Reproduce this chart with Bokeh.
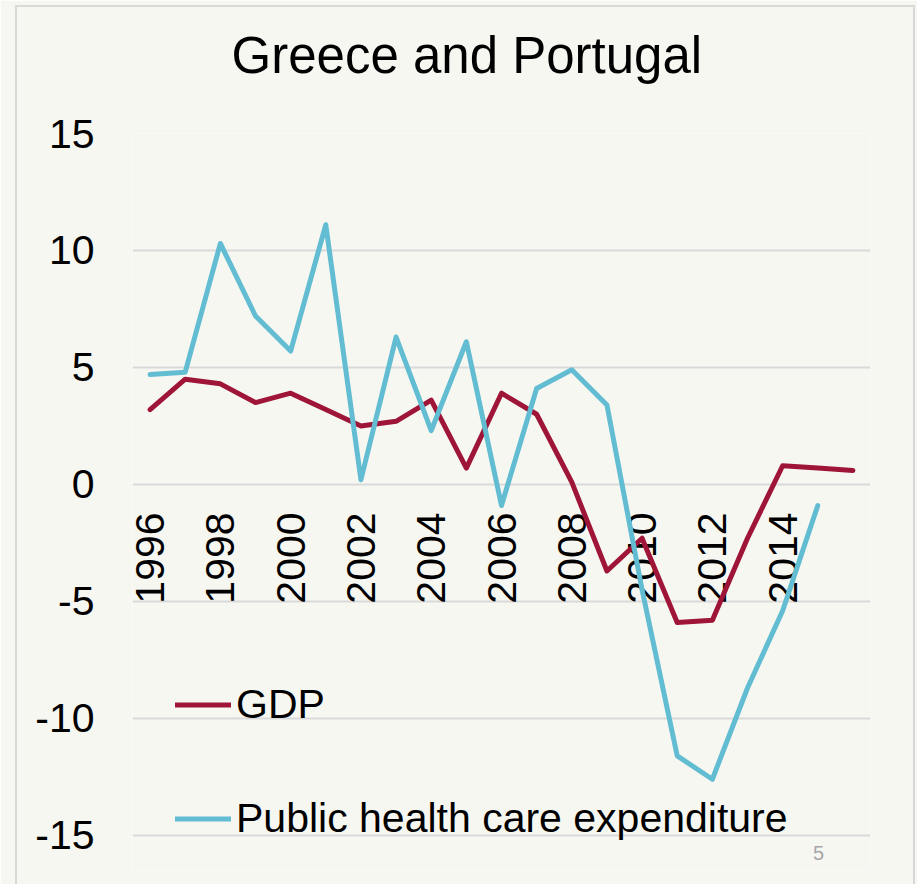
import math
from bokeh.plotting import figure
from bokeh.models import (Range1d, FixedTicker, Legend, LegendItem, Label, Title,
                          CustomJSTickFormatter, InlineStyleSheet)
from bokeh.core.properties import value
from bokeh.embed import file_html
from bokeh.resources import INLINE

# ---- data ----
years = list(range(1996, 2017))
gdp = [3.2, 4.5, 4.3, 3.5, 3.9, 3.2, 2.5, 2.7, 3.6, 0.7, 3.9, 3.0, 0.1,
       -3.7, -2.3, -5.9, -5.8, -2.3, 0.8, 0.7, 0.6]
health_years = list(range(1996, 2016))
health = [4.7, 4.8, 10.3, 7.2, 5.7, 11.1, 0.2, 6.3, 2.3, 6.1, -0.9, 4.1, 4.9,
          3.4, -4.5, -11.6, -12.6, -8.7, -5.4, -0.9]
tick_years = [1996, 1998, 2000, 2002, 2004, 2006, 2008, 2010, 2012, 2014]
tick_labels = [str(y) for y in tick_years]
y_ticks = [-15, -10, -5, 0, 5, 10, 15]
title_text = "Greece and Portugal"
page_number = "5"

FONT = "Liberation Sans"
BG = "#f7f7f2"
RED = "#9f1538"
CYAN = "#62bcd2"

p = figure(width=917, height=884, x_range=Range1d(1995.5, 2016.5),
           y_range=Range1d(-16.5, 15), output_backend="svg", toolbar_location=None,
           min_border_left=132, min_border_right=47, min_border_top=133,
           min_border_bottom=14)
p.background_fill_color = BG
p.border_fill_color = BG
p.outline_line_color = None

p.xaxis.visible = False
p.xgrid.visible = False

p.yaxis.ticker = FixedTicker(ticks=y_ticks)
p.yaxis.formatter = CustomJSTickFormatter(code="return tick.toString();")
p.yaxis.axis_line_color = None
p.yaxis.major_tick_line_color = None
p.yaxis.minor_tick_line_color = None
p.yaxis.major_tick_out = 0
p.yaxis.major_tick_in = 0
p.yaxis.major_label_standoff = 38
p.yaxis.major_label_text_font = FONT
p.yaxis.major_label_text_font_size = "41px"
p.yaxis.major_label_text_color = "#000000"
p.ygrid.ticker = FixedTicker(ticks=y_ticks)
p.ygrid.grid_line_color = "#d9d9d9"
p.ygrid.grid_line_width = 2

# spacer between frame and title (closest to the frame)
p.add_layout(Title(text=" ", text_font_size="1px", standoff=32), "above")

# Title (outermost above panel)
p.title.text = title_text
p.title.text_font = FONT
p.title.text_font_size = "51px"
p.title.text_font_style = "normal"
p.title.text_color = "#000000"
p.title.align = "left"
p.title.offset = 99
p.title.standoff = 29

# Year labels along the zero line
p.text(x=tick_years, y=[0] * len(tick_years), text=tick_labels,
       angle=math.pi / 2, text_align="right", text_baseline="middle",
       y_offset=28, text_font=value(FONT), text_font_size="41px",
       text_color="#000000")

r1 = p.line(years, gdp, line_color=RED, line_width=5,
            line_cap="round", line_join="round")
r2 = p.line(health_years, health, line_color=CYAN, line_width=5,
            line_cap="round", line_join="round")

legend = Legend(items=[LegendItem(label="GDP", renderers=[r1]),
                       LegendItem(label="Public health care expenditure", renderers=[r2])],
                location=(43, 28), padding=0, margin=0, spacing=67,
                glyph_width=56, glyph_height=41, label_height=41,
                label_standoff=5, label_text_font=FONT,
                label_text_font_size="41px", label_text_color="#000000",
                background_fill_alpha=0, border_line_color=None)
p.add_layout(legend)

# page number
p.add_layout(Label(x=686, y=18, x_units="screen", y_units="screen",
                   text=page_number, text_align="center", text_baseline="middle",
                   text_font=FONT, text_font_size="20px", text_color="#a6a6a6"))

# slide frame
p.stylesheets = [InlineStyleSheet(css=(
    ":host::after {content:''; position:absolute; left:15px; top:5px; "
    "width:900px; height:879px; box-sizing:border-box; "
    "border:2px solid #d9d9d9; border-bottom-width:0; "
    "pointer-events:none; z-index:10;}"))]

open("out.html", "w").write(file_html(p, INLINE))
